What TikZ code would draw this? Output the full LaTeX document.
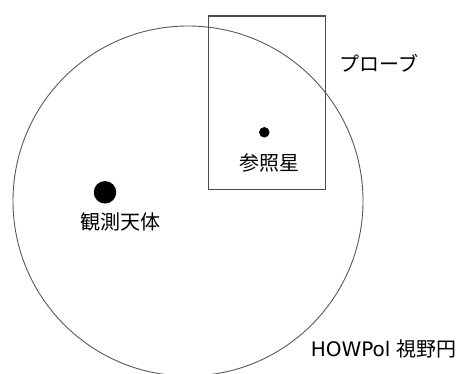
\documentclass[tikz,border=0pt]{standalone}
\usepackage{fontspec}
\setmainfont{DejaVu Sans}
\newfontfamily\jp{Noto Sans CJK JP}
\begin{document}
\begin{tikzpicture}[x=1pt,y=-1pt,
  outline/.style={draw=black!65,line width=0.9pt},
  lbl/.style={inner sep=0pt,font=\fontsize{20}{24}\selectfont}]
\useasboundingbox (0,0) rectangle (457,374);
\begin{scope}
\clip (0,0) rectangle (457,374);
\node[outline,circle,minimum size=350pt,inner sep=0pt] (fov) at (188,201) {};
\end{scope}
\node[outline,draw=black!70,line width=1.2pt,rectangle,minimum width=116.5pt,minimum height=173pt,inner sep=0pt,anchor=north west] (probe) at (208,15.5) {};
\node[fill=black,circle,minimum size=10.5pt,inner sep=0pt] (ref) at (264.3,132.3) {};
\node[fill=black,circle,minimum size=22.5pt,inner sep=0pt] (obj) at (105,192.3) {};
\node[lbl] (reflbl) at (269,162.5) {\jp 参照星};
\node[lbl] (objlbl) at (120.7,221.7) {\jp 観測天体};
\node[lbl] (probelbl) at (378.7,63.5) {\jp プローブ};
\node[lbl,anchor=east] (fovlbl) at (457,348.5) {HOWPol {\jp 視野円}};
\end{tikzpicture}
\end{document}
